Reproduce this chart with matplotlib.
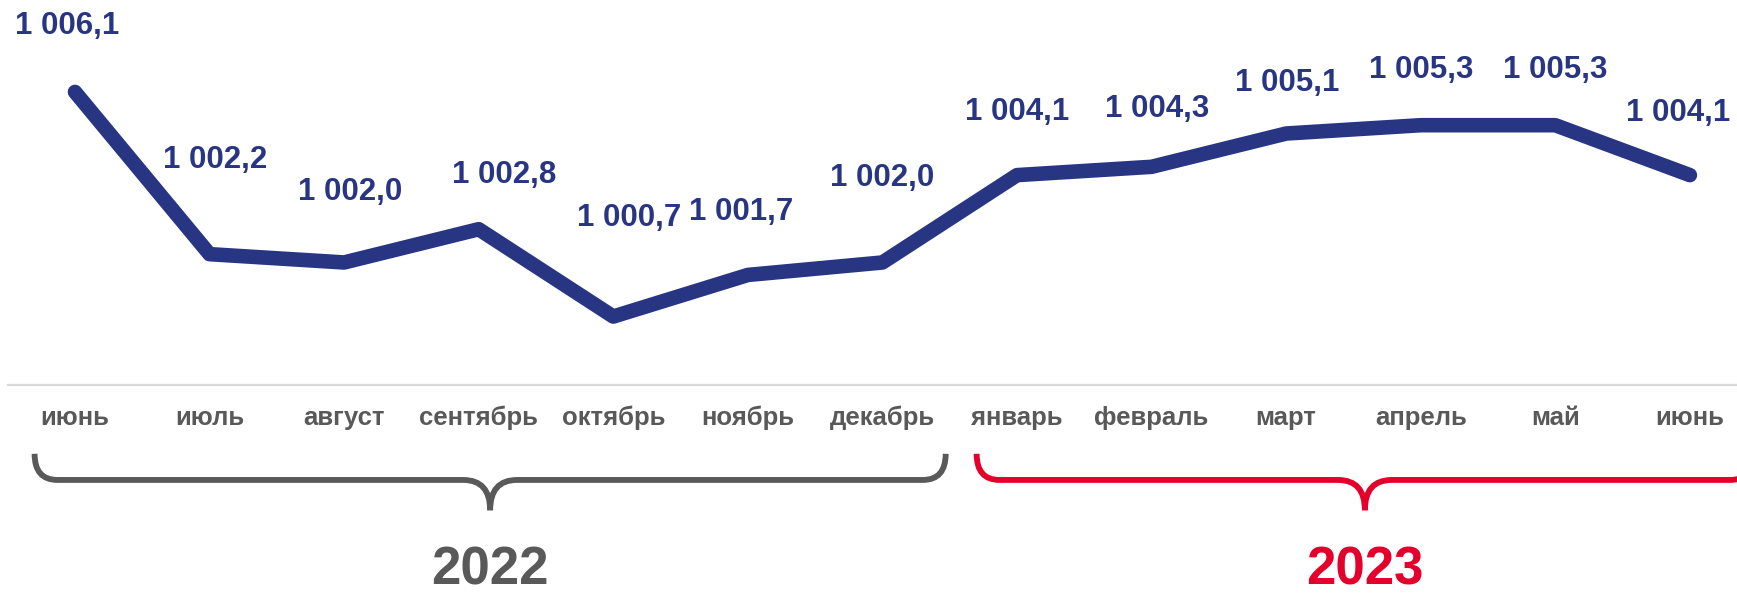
import matplotlib
matplotlib.use('Agg')
from matplotlib import pyplot as plt
from matplotlib.path import Path
from matplotlib.patches import PathPatch
import matplotlib.transforms as mtransforms

# данные
months = ['июнь', 'июль', 'август', 'сентябрь', 'октябрь', 'ноябрь', 'декабрь',
          'январь', 'февраль', 'март', 'апрель', 'май', 'июнь']
values = [1006.1, 1002.2, 1002.0, 1002.8, 1000.7, 1001.7, 1002.0,
          1004.1, 1004.3, 1005.1, 1005.3, 1005.3, 1004.1]
years = ['2022', '2023']
year_groups = [(0, 6), (7, 12)]  # индексы первого и последнего месяца года

# смещения подписей значений (в пикселях)
label_dx = [-8, 6, 6, 25, 16, -7, 0, 0, 6, 1, 0, 0, -12]
label_dy = [66, 94, 70, 54, 99, 63, 84, 63, 58, 51, 55, 55, 62]

navy = '#283583'
grey = '#595959'
red = '#E4002B'
narrow = ['Liberation Sans Narrow', 'Liberation Sans', 'DejaVu Sans']

fig = plt.figure(figsize=(17.37, 5.94), dpi=100)
ax = fig.add_axes([0, 0, 1, 1])
ax.set_xlim(-0.557, 12.35)
ax.set_ylim(994.03, 1008.31)
ax.axis('off')

x = list(range(len(values)))
ax.plot(x, values, color=navy, lw=10.5, solid_capstyle='round', solid_joinstyle='round')

for i, v in enumerate(values):
    txt = f'{v:,.1f}'.replace(',', ' ').replace('.', ',')
    ax.annotate(txt, (i, v), xytext=(label_dx[i], label_dy[i]), textcoords='offset pixels',
                ha='center', va='center', fontsize=22.5, fontweight='bold', color=navy,
                family=['Liberation Sans', 'DejaVu Sans'])

trans = mtransforms.blended_transform_factory(ax.transData, ax.transAxes)

# горизонтальная линия оси
ax.plot([-0.5, 12.35], [0.352, 0.352], transform=trans, color='#d9d9d9', lw=1.6, clip_on=False)

for i, m in enumerate(months):
    ax.text(i, 0.296, m, transform=trans, ha='center', va='center', fontsize=18.5,
            fontweight='bold', color=grey, family=narrow)

# фигурные скобки
def brace(x0, x1, color):
    top, h, tip = 0.236, 0.192, 0.141
    r = 0.17
    r2 = 0.2
    xm = (x0 + x1) / 2
    verts = [(x0, top), (x0, h), (x0 + r, h),
             (xm - r2, h), (xm, h), (xm, tip),
             (xm, h), (xm + r2, h),
             (x1 - r, h), (x1, h), (x1, top)]
    codes = [Path.MOVETO, Path.CURVE3, Path.CURVE3,
             Path.LINETO, Path.CURVE3, Path.CURVE3,
             Path.CURVE3, Path.CURVE3,
             Path.LINETO, Path.CURVE3, Path.CURVE3]
    ax.add_patch(PathPatch(Path(verts, codes), transform=trans, fill=False,
                           edgecolor=color, lw=4.2, capstyle='butt', clip_on=False))
    return xm

for (a, b), yr, c in zip(year_groups, years, [grey, red]):
    xm = brace(a - 0.3, b + 0.47, c)
    ax.text(xm, 0.04, yr, transform=trans, ha='center', va='center', fontsize=38,
            fontweight='bold', color=c, family=narrow)

plt.savefig('out.png', dpi=100)
